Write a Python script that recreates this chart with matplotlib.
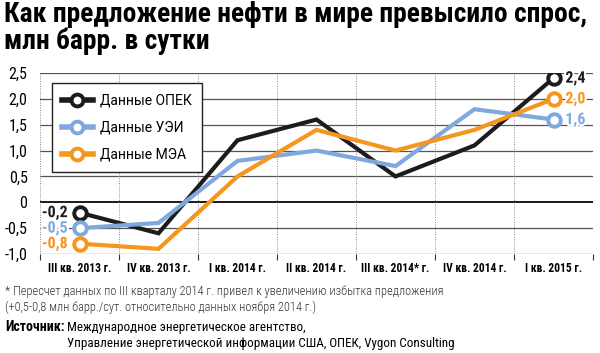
import matplotlib
matplotlib.use("Agg")
import matplotlib.pyplot as plt
import matplotlib.patheffects as pe
from matplotlib.lines import Line2D
from matplotlib import font_manager

# pick a condensed face if there is one
names = {f.name for f in font_manager.fontManager.ttflist}
cond = next((n for n in ["Roboto Condensed", "PT Sans Narrow", "Fira Sans Condensed",
                         "Liberation Sans Narrow", "DejaVu Sans"] if n in names), "DejaVu Sans")
plt.rcParams['font.family'] = [cond, 'DejaVu Sans']

# Data
quarters = ["III кв. 2013 г.", "IV кв. 2013 г.", "I кв. 2014 г.", "II кв. 2014 г.",
            "III кв. 2014* г.", "IV кв. 2014 г.", "I кв. 2015 г."]
opec = [-0.2, -0.6, 1.2, 1.6, 0.5, 1.1, 2.4]
eia = [-0.5, -0.4, 0.8, 1.0, 0.7, 1.8, 1.6]
iea = [-0.8, -0.9, 0.5, 1.4, 1.0, 1.4, 2.0]
series_names = ["Данные ОПЕК", "Данные УЭИ", "Данные МЭА"]
yticks = [-1.0, -0.5, 0, 0.5, 1.0, 1.5, 2.0, 2.5]

colors = ["#1c1c1c", "#7fa8dc", "#f5961e"]

fig = plt.figure(figsize=(6, 3.53), dpi=100)
ax = fig.add_axes([40 / 600, 1 - 254 / 353, 553 / 600, 181 / 353])

x = list(range(len(quarters)))
ax.set_xlim(-0.5, len(quarters) - 0.5)
ax.set_ylim(-1.0, 2.5)

# grid
for yv in yticks:
    if yv == 0:
        ax.axhline(yv, color="#1a1a1a", lw=1.4, zorder=1)
    else:
        ax.axhline(yv, color="#555555", lw=0.9, zorder=1)
for b in range(len(quarters) + 1):
    ax.axvline(b - 0.5, color="#888888", lw=0.7, ls=(0, (1, 1.5)), zorder=1)

for s in ax.spines.values():
    s.set_visible(False)

ax.set_yticks(yticks)
ax.set_yticklabels(["0" if v == 0 else f"{v:.1f}".replace(".", ",") for v in yticks],
                   fontsize=11.5)
ax.tick_params(axis="y", length=0, pad=9)
ax.set_xticks(x)
ax.set_xticklabels(quarters, fontsize=8.3, fontweight="semibold")
ax.set_xticks([b - 0.5 for b in range(len(quarters) + 1)], minor=True)
ax.tick_params(axis="x", which="major", length=0, pad=6)
ax.tick_params(axis="x", which="minor", length=4, width=0.8, color="#333333")

stroke = [pe.withStroke(linewidth=3, foreground="white")]
for vals, c in zip([opec, eia, iea], colors):
    ax.plot(x, vals, color=c, lw=3, zorder=3, solid_joinstyle="miter")
    ax.plot([x[0], x[-1]], [vals[0], vals[-1]], "o", color=c, mfc="white",
            mew=2.8, ms=9, zorder=4)
    ax.text(x[0] - 0.15, vals[0], f"{vals[0]:.1f}".replace(".", ","), color=c,
            fontsize=11.5, fontweight="bold", ha="right", va="center",
            path_effects=stroke, zorder=5)
    ax.text(x[-1] + 0.15, vals[-1], f"{vals[-1]:.1f}".replace(".", ","), color=c,
            fontsize=11.5, fontweight="bold", ha="left", va="center",
            path_effects=stroke, zorder=5)

handles = [Line2D([0], [0], color=c, lw=4, marker="o", mfc="white", mew=2.8, ms=8.5)
           for c in colors]
leg = ax.legend(handles, series_names, loc="upper left", bbox_to_anchor=(0.021, 0.945),
                fancybox=False, edgecolor="#222222", framealpha=1,
                prop={"family": ["Roboto", "DejaVu Sans"], "size": 10},
                handlelength=2.2, labelspacing=0.95, borderpad=0.75, handletextpad=0.55,
                borderaxespad=0)
leg.get_frame().set_linewidth(1.0)
leg.set_zorder(6)

fig.text(0.006, 0.997, "Как предложение нефти в мире превысило спрос,\nмлн барр. в сутки",
         fontsize=19.8, fontweight="heavy", va="top", ha="left", linespacing=0.98)

fig.text(0.008, 1 - 292 / 353, "* Пересчет данных по III кварталу 2014 г. привел к увеличению избытка предложения",
         fontsize=8.9, color="#333333", va="center", fontweight="light")
fig.text(0.008, 1 - 307 / 353, "(+0,5-0,8 млн барр./сут. относительно данных ноября 2014 г.)",
         fontsize=8.9, color="#333333", va="center", fontweight="light")
fig.text(0.008, 1 - 327 / 353, "Источник:", fontsize=10, fontweight="bold", va="center")
fig.text(0.112, 1 - 327 / 353, "Международное энергетическое агентство,",
         fontsize=9.4, va="center")
fig.text(0.112, 1 - 343 / 353, "Управление энергетической информации США, ОПЕК, Vygon Consulting",
         fontsize=9.4, va="center")

fig.savefig("out.png", dpi=100)
